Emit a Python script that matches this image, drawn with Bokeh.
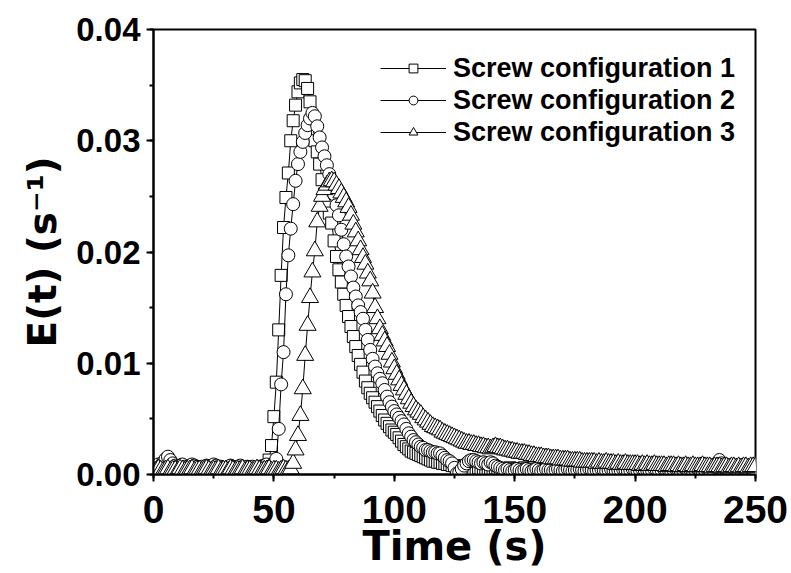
from bokeh.plotting import figure
from bokeh.models import (SingleIntervalTicker, NumeralTickFormatter, Legend,
                          LegendItem, Range1d)
from bokeh.embed import file_html
from bokeh.resources import INLINE

# ---------------- data ----------------
time_s = list(range(0, 251))

config1 = [
    0.0006, 0.0005, 0.0007, 0.0006, 0.0005, 0.0004, 0.0006, 0.0007, 0.0005, 0.0004,
    0.0005, 0.0006, 0.0004, 0.0005, 0.0007, 0.0005, 0.0004, 0.0006, 0.0005, 0.0004,
    0.0005, 0.0006, 0.0005, 0.0004, 0.0006, 0.0005, 0.0007, 0.0005, 0.0004, 0.0005,
    0.0006, 0.0004, 0.0005, 0.0005, 0.0006, 0.0004, 0.0005, 0.0006, 0.0005, 0.0004,
    0.0005, 0.0006, 0.0004, 0.0005, 0.0006, 0.0005, 0.0007, 0.0008, 0.0013, 0.0026,
    0.0052, 0.0083, 0.0130, 0.0179, 0.0222, 0.0249, 0.0271, 0.0300, 0.0318, 0.0332,
    0.0344, 0.0352, 0.0355, 0.0354, 0.0347, 0.0335, 0.0318, 0.0300, 0.0290, 0.0279,
    0.0265, 0.0252, 0.0243, 0.0235, 0.0226, 0.0210, 0.0196, 0.0184, 0.0173, 0.0162,
    0.0152, 0.0142, 0.0133, 0.0124, 0.0115, 0.0107, 0.0099, 0.0092, 0.0084, 0.0078,
    0.0073, 0.0069, 0.0065, 0.0061, 0.0057, 0.0053, 0.0049, 0.0046, 0.0043, 0.0040,
    0.0038, 0.0036, 0.0033, 0.0030, 0.0027, 0.0025, 0.0023, 0.0021, 0.0020, 0.0019,
    0.0018, 0.0017, 0.0016, 0.0015, 0.0014, 0.0013, 0.0012, 0.0012, 0.0011, 0.0011,
    0.0010, 0.0010, 0.0009, 0.0009, 0.0008, 0.0008, 0.0007, 0.0007, 0.0006, 0.0006,
    0.0005, 0.0006, 0.0005, 0.0004, 0.0005, 0.0006, 0.0005, 0.0004, 0.0005, 0.0005,
    0.0004, 0.0005, 0.0006, 0.0005, 0.0004, 0.0005, 0.0005, 0.0004, 0.0006, 0.0005,
    0.0004, 0.0005, 0.0005, 0.0004, 0.0006, 0.0005, 0.0004, 0.0005, 0.0006, 0.0004,
    0.0005, 0.0005, 0.0004, 0.0006, 0.0005, 0.0004, 0.0005, 0.0005, 0.0006, 0.0004,
    0.0005, 0.0004, 0.0005, 0.0006, 0.0005, 0.0004, 0.0005, 0.0006, 0.0005, 0.0004,
    0.0005, 0.0005, 0.0006, 0.0004, 0.0005, 0.0005, 0.0004, 0.0006, 0.0005, 0.0004,
    0.0005, 0.0006, 0.0005, 0.0004, 0.0005, 0.0005, 0.0006, 0.0004, 0.0005, 0.0005,
    0.0004, 0.0005, 0.0006, 0.0005, 0.0004, 0.0005, 0.0005, 0.0006, 0.0004, 0.0005,
    0.0005, 0.0004, 0.0006, 0.0005, 0.0005, 0.0004, 0.0005, 0.0006, 0.0005, 0.0004,
    0.0005, 0.0005, 0.0006, 0.0004, 0.0005, 0.0005, 0.0004, 0.0006, 0.0005, 0.0005,
    0.0004, 0.0005, 0.0006, 0.0005, 0.0004, 0.0005, 0.0006, 0.0005, 0.0004, 0.0005,
    0.0005, 0.0006, 0.0004, 0.0005, 0.0005, 0.0006, 0.0004, 0.0005, 0.0005, 0.0006,
    0.0005,
]

config2 = [
    0.0005, 0.0007, 0.0009, 0.0008, 0.0011, 0.0014, 0.0016, 0.0013, 0.0010, 0.0008,
    0.0007, 0.0008, 0.0009, 0.0007, 0.0006, 0.0008, 0.0009, 0.0008, 0.0007, 0.0006,
    0.0007, 0.0006, 0.0008, 0.0007, 0.0006, 0.0009, 0.0008, 0.0006, 0.0007, 0.0006,
    0.0005, 0.0007, 0.0008, 0.0007, 0.0006, 0.0007, 0.0008, 0.0006, 0.0005, 0.0007,
    0.0006, 0.0007, 0.0005, 0.0006, 0.0007, 0.0006, 0.0008, 0.0009, 0.0007, 0.0008,
    0.0010, 0.0014, 0.0041, 0.0081, 0.0110, 0.0162, 0.0197, 0.0221, 0.0243, 0.0264,
    0.0279, 0.0290, 0.0299, 0.0307, 0.0314, 0.0320, 0.0325, 0.0322, 0.0313, 0.0303,
    0.0294, 0.0286, 0.0278, 0.0270, 0.0261, 0.0252, 0.0242, 0.0233, 0.0220, 0.0207,
    0.0196, 0.0187, 0.0178, 0.0168, 0.0160, 0.0152, 0.0146, 0.0140, 0.0130, 0.0121,
    0.0112, 0.0104, 0.0097, 0.0091, 0.0086, 0.0082, 0.0076, 0.0070, 0.0065, 0.0061,
    0.0057, 0.0054, 0.0051, 0.0048, 0.0045, 0.0041, 0.0037, 0.0034, 0.0031, 0.0029,
    0.0027, 0.0025, 0.0024, 0.0022, 0.0022, 0.0021, 0.0020, 0.0020, 0.0019, 0.0019,
    0.0017, 0.0015, 0.0013, 0.0012, 0.0010, 0.0006, 0.0001, 0.0002, 0.0005, 0.0008,
    0.0010, 0.0012, 0.0013, 0.0013, 0.0012, 0.0011, 0.0010, 0.0011, 0.0010, 0.0009,
    0.0011, 0.0010, 0.0008, 0.0007, 0.0006, 0.0005, 0.0004, 0.0005, 0.0004, 0.0003,
    0.0004, 0.0005, 0.0004, 0.0003, 0.0004, 0.0005, 0.0004, 0.0003, 0.0004, 0.0005,
    0.0004, 0.0003, 0.0004, 0.0005, 0.0004, 0.0004, 0.0003, 0.0004, 0.0005, 0.0004,
    0.0003, 0.0004, 0.0005, 0.0004, 0.0003, 0.0004, 0.0004, 0.0005, 0.0004, 0.0003,
    0.0004, 0.0005, 0.0004, 0.0003, 0.0004, 0.0004, 0.0005, 0.0004, 0.0003, 0.0004,
    0.0005, 0.0004, 0.0003, 0.0004, 0.0004, 0.0005, 0.0004, 0.0003, 0.0004, 0.0005,
    0.0004, 0.0003, 0.0004, 0.0005, 0.0004, 0.0004, 0.0003, 0.0004, 0.0005, 0.0004,
    0.0003, 0.0004, 0.0005, 0.0004, 0.0004, 0.0003, 0.0004, 0.0005, 0.0004, 0.0003,
    0.0004, 0.0005, 0.0004, 0.0004, 0.0003, 0.0004, 0.0005, 0.0004, 0.0003, 0.0004,
    0.0005, 0.0004, 0.0005, 0.0007, 0.0010, 0.0013, 0.0010, 0.0007, 0.0005, 0.0004,
    0.0004, 0.0005, 0.0004, 0.0003, 0.0004, 0.0005, 0.0004, 0.0004, 0.0005, 0.0004,
    0.0004,
]

config3 = [
    0.0004, 0.0003, 0.0005, 0.0004, 0.0003, 0.0004, 0.0005, 0.0003, 0.0004, 0.0004,
    0.0003, 0.0005, 0.0004, 0.0003, 0.0004, 0.0004, 0.0005, 0.0003, 0.0004, 0.0004,
    0.0003, 0.0004, 0.0005, 0.0004, 0.0003, 0.0004, 0.0004, 0.0005, 0.0003, 0.0004,
    0.0004, 0.0003, 0.0005, 0.0004, 0.0003, 0.0004, 0.0004, 0.0005, 0.0003, 0.0004,
    0.0004, 0.0003, 0.0004, 0.0005, 0.0004, 0.0003, 0.0004, 0.0004, 0.0005, 0.0003,
    0.0004, 0.0004, 0.0003, 0.0004, 0.0005, 0.0004, 0.0004, 0.0005, 0.0010, 0.0022,
    0.0035, 0.0053, 0.0077, 0.0107, 0.0134, 0.0159, 0.0182, 0.0201, 0.0227, 0.0241,
    0.0250, 0.0256, 0.0260, 0.0263, 0.0264, 0.0263, 0.0260, 0.0257, 0.0253, 0.0249,
    0.0245, 0.0240, 0.0233, 0.0225, 0.0218, 0.0210, 0.0202, 0.0195, 0.0189, 0.0181,
    0.0174, 0.0163, 0.0150, 0.0140, 0.0131, 0.0125, 0.0120, 0.0115, 0.0108, 0.0101,
    0.0095, 0.0090, 0.0085, 0.0080, 0.0076, 0.0072, 0.0068, 0.0064, 0.0061, 0.0058,
    0.0056, 0.0054, 0.0051, 0.0049, 0.0047, 0.0045, 0.0043, 0.0042, 0.0041, 0.0040,
    0.0038, 0.0037, 0.0036, 0.0035, 0.0034, 0.0033, 0.0032, 0.0031, 0.0030, 0.0029,
    0.0028, 0.0028, 0.0027, 0.0027, 0.0026, 0.0026, 0.0025, 0.0025, 0.0024, 0.0024,
    0.0023, 0.0024, 0.0025, 0.0024, 0.0024, 0.0023, 0.0022, 0.0022, 0.0021, 0.0021,
    0.0020, 0.0020, 0.0019, 0.0019, 0.0019, 0.0018, 0.0018, 0.0017, 0.0017, 0.0016,
    0.0016, 0.0016, 0.0015, 0.0015, 0.0015, 0.0014, 0.0014, 0.0014, 0.0014, 0.0013,
    0.0013, 0.0013, 0.0013, 0.0012, 0.0012, 0.0012, 0.0012, 0.0012, 0.0011, 0.0011,
    0.0011, 0.0011, 0.0011, 0.0011, 0.0010, 0.0011, 0.0010, 0.0010, 0.0011, 0.0010,
    0.0010, 0.0010, 0.0009, 0.0010, 0.0009, 0.0009, 0.0010, 0.0009, 0.0009, 0.0009,
    0.0009, 0.0009, 0.0008, 0.0009, 0.0008, 0.0009, 0.0008, 0.0008, 0.0009, 0.0008,
    0.0008, 0.0008, 0.0008, 0.0007, 0.0008, 0.0008, 0.0008, 0.0007, 0.0008, 0.0007,
    0.0007, 0.0008, 0.0007, 0.0007, 0.0008, 0.0007, 0.0007, 0.0007, 0.0008, 0.0007,
    0.0007, 0.0007, 0.0006, 0.0007, 0.0007, 0.0007, 0.0006, 0.0007, 0.0007, 0.0006,
    0.0007, 0.0007, 0.0006, 0.0007, 0.0006, 0.0007, 0.0007, 0.0006, 0.0007, 0.0007,
    0.0007,
]

series_labels = ["Screw configuration 1", "Screw configuration 2", "Screw configuration 3"]
series_values = [config1, config2, config3]
series_markers = ["square", "circle", "triangle"]
marker_sizes = [12, 13, 17]

x_label = "Time (s)"
y_label = "E(t) (s\u207b\u00b9)"

FONT = "Liberation Sans"
TITLE_FONT = "DejaVu Sans"

# ---------------- figure ----------------
p = figure(width=788, height=573,
           x_range=Range1d(0, 250), y_range=Range1d(0, 0.04),
           output_backend="svg", toolbar_location=None,
           min_border_left=153, min_border_right=33,
           min_border_top=29, min_border_bottom=99)

p.grid.visible = False
p.outline_line_color = "black"
p.outline_line_width = 2
p.background_fill_color = "white"
p.border_fill_color = "white"

items = []
for label, vals, mk, sz in zip(series_labels, series_values, series_markers, marker_sizes):
    ln = p.line(time_s, vals, line_color="black", line_width=1)
    sc = p.scatter(time_s, vals, marker=mk, size=sz,
                   fill_color="white", line_color="black", line_width=1)
    items.append(LegendItem(label=label, renderers=[ln, sc]))

legend = Legend(items=items, location=(227, 326))
legend.border_line_color = None
legend.background_fill_alpha = 0
legend.padding = 0
legend.margin = 0
legend.spacing = 0
legend.glyph_width = 66
legend.glyph_height = 22
legend.label_height = 32
legend.label_standoff = 7
legend.label_text_font = FONT
legend.label_text_font_style = "bold"
legend.label_text_font_size = "27px"
legend.label_text_color = "black"
p.add_layout(legend, "center")

# x axis
xa = p.xaxis[0]
xa.ticker = SingleIntervalTicker(interval=50, num_minor_ticks=2)
xa.formatter = NumeralTickFormatter(format="0")
xa.axis_label = x_label
# y axis
ya = p.yaxis[0]
ya.ticker = SingleIntervalTicker(interval=0.01, num_minor_ticks=2)
ya.formatter = NumeralTickFormatter(format="0.00")
ya.axis_label = y_label

for ax in (xa, ya):
    ax.axis_line_width = 2
    ax.axis_line_color = "black"
    ax.major_tick_line_width = 2
    ax.minor_tick_line_width = 2
    ax.major_tick_in = 0
    ax.major_tick_out = 7
    ax.minor_tick_in = 0
    ax.minor_tick_out = 4
    ax.major_label_text_font = FONT
    ax.major_label_text_font_style = "bold"
    ax.major_label_text_color = "black"
    ax.axis_label_text_font = TITLE_FONT
    ax.axis_label_text_font_style = "bold"
    ax.axis_label_text_color = "black"

xa.major_label_text_font_size = "39px"
xa.major_label_standoff = 14
xa.axis_label_text_font_size = "40px"
xa.axis_label_standoff = -3
ya.major_label_text_font_size = "33px"
ya.major_label_standoff = 6
ya.axis_label_text_font_size = "39px"
ya.axis_label_standoff = 8

open("out.html", "w").write(file_html(p, INLINE))
